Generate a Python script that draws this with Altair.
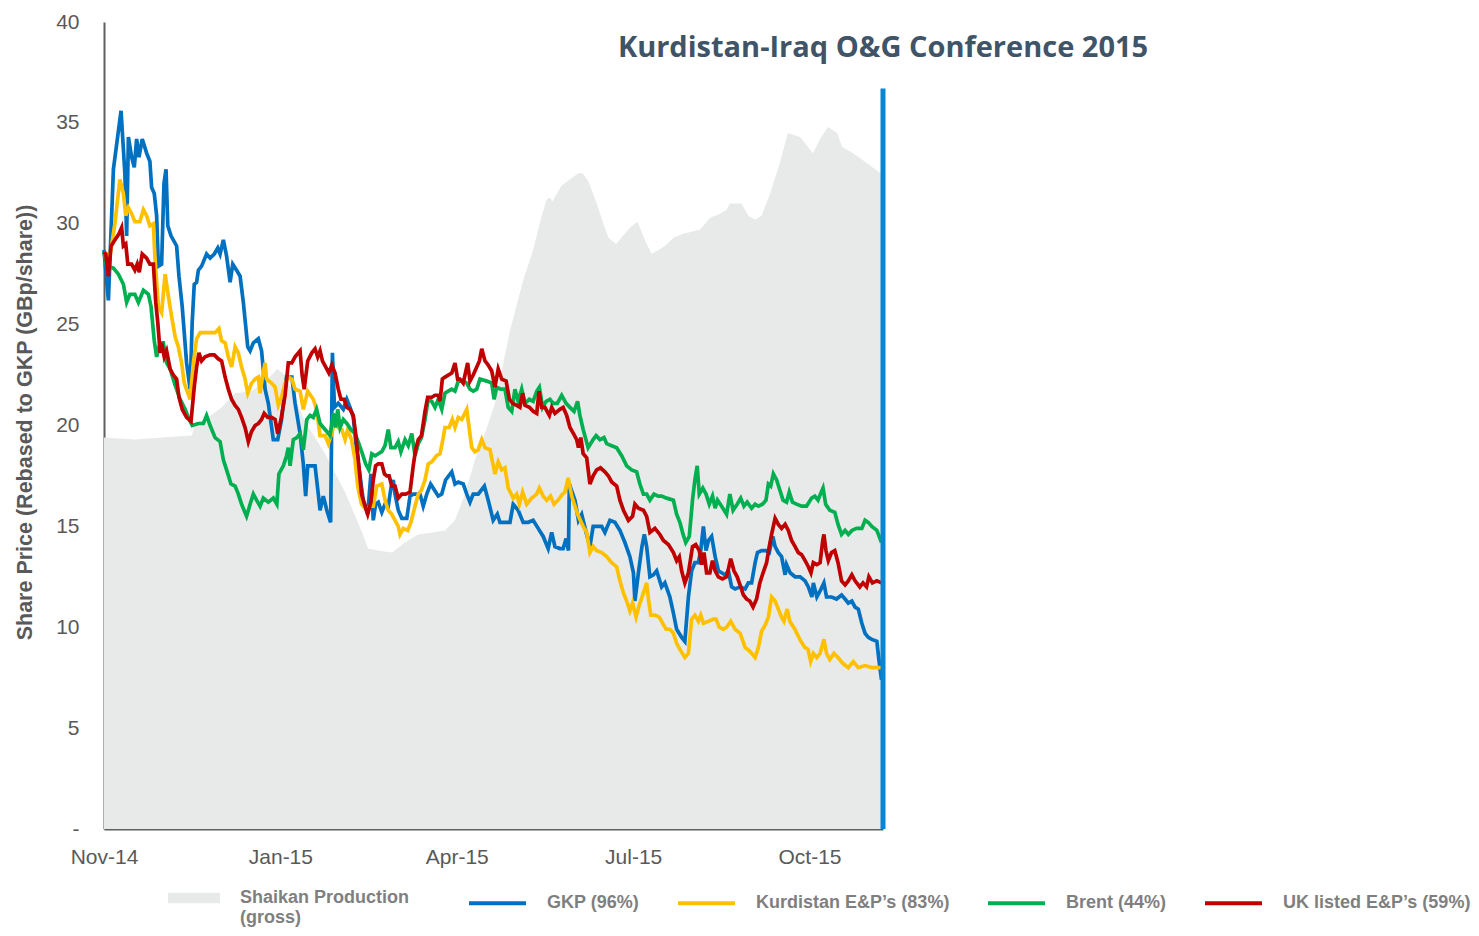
import altair as alt
import pandas as pd

# ---------------- axis / label data ----------------
X_TICK_POS = [0, 60, 120, 180, 240]
X_TICK_LABELS = ["Nov-14", "Jan-15", "Apr-15", "Jul-15", "Oct-15"]
Y_TICKS = [0, 5, 10, 15, 20, 25, 30, 35, 40]
X_END = 265

TITLE_TEXT = "Kurdistan-Iraq O&G Conference 2015"
Y_TITLE = "Share Price (Rebased to GKP (GBp/share))"

SERIES_NAMES = ["GKP (96%)", "Kurdistan E&P\u2019s (83%)", "Brent (44%)", "UK listed E&P\u2019s (59%)"]
SERIES_COLORS = ["#0070c0", "#ffc000", "#00b050", "#c00000"]
AREA_NAME = "Shaikan Production (gross)"
AREA_LINES = ["Shaikan Production", "(gross)"]
AREA_COLOR = "#e8e9e9"

EVENT_X = [265]
EVENT_TOP = [36.7]
EVENT_LABEL_Y = [38.7]

# ---------------- series data (trading-day index, value) ----------------
GKP_X = [0, 1.5, 3.2, 5.8, 7.1, 7.7, 8.3, 9.4, 10.3, 11.1,
         11.9, 13.0, 14.5, 15.6, 16.2, 17.1, 17.9, 18.5, 19.6, 20.4,
         21.1, 21.7, 22.8, 24.7, 25.5, 26.6, 28.1, 29.3, 30.0, 30.7,
         31.5, 32.1, 33.2, 34.9, 36.1, 37.5, 38.7, 39.5, 40.6, 41.7,
         42.9, 43.8, 45.1, 46.3, 47.4, 48.9, 49.7, 50.8, 52.5, 53.6,
         54.8, 55.9, 57.6, 59.1, 60.4, 62.1, 63.9, 65, 66.7, 67.8,
         68.6, 69.3, 71.8, 72.9, 73.5, 74.6, 75.8, 77.1, 77.7, 78.4,
         79.7, 81.4, 82.6, 83.7, 84.8, 85.9, 87.1, 88.2, 89.7, 90.8,
         91.6, 92.4, 93.3, 94.5, 95.6, 96.7, 97.6, 98.4, 99, 100.1,
         101.3, 103, 104.1, 105.2, 106.4, 107.5, 108.6, 109.8, 111.1, 112.4,
         113.7, 114.9, 116.2, 118.3, 119.4, 120.5, 122.2, 123.4, 124.5, 125.6,
         127.3, 129.4, 130.7, 132.4, 133.8, 134.7, 137, 138.1, 139.2, 140.9,
         142.6, 144.3, 146, 147.7, 149.4, 151.1, 152.3, 153.4, 155.1, 156.2,
         157.2, 158, 158.3, 160.2, 161.4, 162.5, 164.2, 165.3, 166.4, 168.2,
         169.3, 170.4, 172.1, 173.8, 175.5, 177.2, 178.9, 180.1, 180.6, 181.8,
         183, 183.8, 184.6, 185.7, 186.9, 188, 189.7, 190.8, 192.5, 193.7,
         194.8, 196.5, 197.6, 198.8, 199.9, 201, 202.2, 203, 203.9, 204.8,
         205.6, 206.7, 207.9, 209, 210.1, 211.3, 212.4, 213.5, 214.7, 216.4,
         218.1, 219.2, 220.3, 221.5, 222.3, 223.7, 225.2, 226.3, 227.5, 228.3,
         229.4, 230.5, 231.7, 232.2, 233.4, 235.1, 236.8, 238.5, 239.6, 240.8,
         241.3, 242.5, 243.6, 244.9, 245.8, 247.5, 249.2, 250.9, 252.1, 253.2,
         254.4, 255.5, 256.6, 257.8, 258.9, 260, 261.2, 262.9, 263.6, 264.5]
GKP_Y = [28.7, 26.2, 32.7, 35.6, 32.5, 29.4, 34.3, 33.3, 32.8, 34.2,
         33.3, 34.2, 33.5, 33.1, 31.8, 31.5, 30.4, 27.9, 28.0, 32.0,
         32.7, 29.9, 29.4, 28.9, 27.4, 25.9, 23.1, 21.8, 25.1, 27.0,
         27.1, 27.7, 27.9, 28.5, 28.3, 28.5, 28.8, 28.5, 29.2, 28.4,
         27.1, 28.0, 27.7, 27.4, 26.1, 23.9, 23.7, 24.1, 24.3, 23.7,
         21.8, 21.1, 19.3, 19.3, 20.3, 22.4, 22.4, 21.1, 19.6, 18.1,
         16.5, 18.0, 18.0, 16.6, 15.8, 16.5, 15.8, 15.2, 23.6, 20.9,
         21.1, 20.8, 21.3, 20.9, 20.4, 18.8, 17.5, 16.3, 15.6, 17.6,
         15.3, 16.1, 16.2, 15.7, 16.1, 16.0, 16.9, 17.3, 16.6, 15.8,
         15.4, 15.4, 16.5, 16.6, 16.6, 16.6, 16.0, 16.6, 17.1, 16.8,
         16.5, 16.6, 17.3, 17.7, 17.1, 17.2, 17.1, 16.6, 16.2, 16.6,
         16.6, 17.0, 16.3, 15.3, 15.6, 15.2, 15.2, 15.2, 16.1, 15.8,
         15.2, 15.2, 15.3, 14.9, 14.5, 13.9, 14.7, 14.0, 13.9, 13.9,
         14.4, 13.8, 17.1, 16.3, 15.3, 15.6, 14.6, 14.0, 15.0, 15.0,
         15.0, 14.7, 15.3, 15.2, 14.8, 14.2, 13.5, 12.7, 11.3, 12.7,
         14.0, 14.6, 14.0, 12.5, 12.6, 12.8, 12.0, 12.2, 11.5, 10.7,
         9.9, 9.5, 9.3, 11.5, 12.8, 13.2, 13.2, 13.8, 15.0, 13.8,
         14.3, 14.5, 13.5, 12.8, 12.7, 12.6, 12.8, 12.0, 11.9, 12.0,
         11.9, 12.2, 12.2, 13.2, 13.7, 13.8, 13.8, 13.7, 14.5, 14.0,
         13.7, 13.5, 12.6, 13.1, 12.7, 12.5, 12.5, 12.3, 12.0, 11.5,
         12.2, 11.5, 11.8, 12.2, 11.5, 11.5, 11.4, 11.6, 11.4, 11.2,
         11.3, 11.0, 10.9, 10.2, 9.7, 9.5, 9.4, 9.3, 8.4, 7.4]

KEP_X = [0, 2, 3.7, 5.4, 6.6, 7.4, 8.3, 9.4, 10.5, 12.2,
         13.4, 14.5, 15.6, 16.8, 17.3, 18.5, 19.6, 20.8, 21.9, 23,
         24.2, 25.3, 26.4, 27.3, 29.3, 30.4, 31.5, 32.7, 34.4, 36.1,
         37.8, 39.1, 40, 41.2, 42.3, 43.4, 44.6, 45.7, 46.8, 48,
         48.9, 50.2, 51.4, 52.5, 53.1, 54, 54.8, 55.3, 57, 58.2,
         59.3, 60.4, 61.6, 62.7, 63.9, 65, 66.7, 67.8, 69.3, 71.2,
         72.3, 73.5, 75.2, 76.3, 77.5, 78.6, 79.7, 80.9, 82, 82.9,
         84.2, 85.4, 86.3, 87.6, 89.4, 90.5, 91.6, 92.8, 94.5, 95.6,
         96.7, 97.9, 99, 100.1, 100.7, 101.8, 103.3, 104.4, 105.8, 106.9,
         108, 109.2, 110.3, 111.5, 113.1, 114.3, 115.4, 116, 117.4, 118.5,
         119.4, 120.5, 121.7, 123.4, 124.2, 125.1, 126.2, 127.3, 128.5, 129.6,
         131.3, 133, 134.1, 135.3, 136.4, 137.5, 139.2, 140.4, 141.3, 142.4,
         143.8, 145.5, 147.2, 148.1, 149.4, 150.6, 151.9, 153.1, 154.5, 156,
         156.8, 157.9, 159.1, 160.2, 161.4, 163, 164.2, 165.3, 166.4, 167.6,
         169.3, 171, 172.7, 174.4, 175.5, 176.7, 177.8, 178.9, 179.8, 181,
         182.1, 183.5, 184.6, 185.2, 186, 187.4, 188.9, 190, 191.2, 192.5,
         193.7, 194.8, 195.9, 197.6, 198.8, 199.9, 201, 202.2, 203, 203.9,
         205.6, 207.3, 208.2, 209.3, 210.7, 211.8, 213.2, 214.7, 216.4, 218.1,
         219.8, 221.5, 222.6, 223.7, 224.9, 226, 227.1, 228.3, 229.4, 230.5,
         231.3, 232.4, 233.3, 235, 236.7, 238.4, 239.5, 240.4, 241.3, 242.5,
         243.6, 244.9, 245.8, 246.9, 248.3, 249.7, 251.4, 253.2, 254.9, 256.6,
         258.9, 261.2, 264.5]
KEP_Y = [28.6, 28.4, 30.0, 32.2, 31.5, 30.4, 30.8, 30.5, 30.1, 30.1,
         30.7, 30.4, 29.9, 30.0, 28.4, 25.9, 25.6, 27.5, 26.4, 25.4,
         24.4, 23.9, 23.1, 22.1, 21.3, 23.1, 24.3, 24.6, 24.6, 24.6,
         24.6, 24.8, 24.2, 24.1, 23.4, 22.9, 23.9, 23.6, 22.9, 22.3,
         21.6, 22.1, 22.3, 22.4, 21.6, 22.5, 23.1, 22.3, 22.1, 21.9,
         21.0, 21.4, 22.1, 22.4, 22.3, 21.8, 21.7, 20.8, 21.7, 21.3,
         20.8, 19.5, 19.5, 19.1, 19.6, 20.3, 19.9, 19.8, 19.3, 19.8,
         19.3, 18.3, 17.0, 16.1, 15.8, 16.0, 16.0, 17.0, 17.1, 16.3,
         15.8, 15.6, 15.3, 15.0, 14.6, 14.9, 14.8, 15.2, 16.0, 16.6,
         16.8, 17.3, 18.1, 18.2, 18.5, 18.6, 19.4, 19.9, 19.9, 20.3,
         19.9, 20.4, 20.3, 20.8, 19.9, 18.9, 18.7, 18.8, 19.3, 18.9,
         18.8, 17.6, 18.2, 17.8, 17.9, 16.9, 16.4, 16.6, 16.1, 16.7,
         16.1, 16.4, 16.6, 16.9, 16.5, 16.3, 16.5, 16.1, 16.3, 16.6,
         16.7, 17.4, 16.5, 16.0, 15.5, 15.0, 14.7, 13.7, 14.0, 13.8,
         13.7, 13.5, 13.2, 13.0, 12.3, 11.7, 11.3, 10.8, 11.2, 10.5,
         11.1, 11.7, 12.2, 11.4, 10.6, 10.6, 10.5, 10.2, 9.9, 9.9,
         9.7, 9.2, 8.9, 8.5, 8.7, 10.4, 10.6, 10.3, 10.6, 10.2,
         10.3, 10.4, 10.4, 10.0, 9.9, 10.0, 10.3, 9.9, 9.7, 9.0,
         8.8, 8.5, 9.0, 9.8, 10.1, 10.5, 11.5, 11.3, 10.9, 10.5,
         10.3, 10.9, 10.3, 9.9, 9.4, 9.0, 8.9, 8.3, 8.7, 8.5,
         8.7, 9.4, 8.7, 8.4, 8.7, 8.5, 8.2, 8.0, 8.3, 8.0,
         8.1, 8.0, 8.0]

BRENT_X = [0, 0.9, 3.2, 4.9, 6.6, 7.7, 8.8, 10.5, 11.7, 13.4,
           15.1, 16, 17.1, 17.9, 19.1, 20.2, 21.3, 22.5, 24.2, 25.9,
           27.6, 28.7, 30, 32.1, 33.8, 34.9, 36.1, 37.8, 39.5, 40.6,
           41.7, 43.2, 44.6, 45.7, 46.8, 48.5, 49.7, 50.8, 51.9, 53.1,
           54.2, 55.9, 57.6, 58.8, 59.5, 61, 62.1, 62.7, 63.3, 64.4,
           65.6, 66.7, 67.8, 69, 70.1, 71.2, 72.3, 73.5, 74.6, 75.8,
           76.9, 78, 78.8, 79.5, 80.3, 81.4, 82.6, 84, 85.4, 86.7,
           87.9, 89, 90.1, 91.1, 92.2, 93.3, 94.5, 95.6, 96.7, 97.6,
           99, 100.1, 101, 102.4, 103.5, 104.7, 105.8, 106.9, 108, 109.2,
           110.3, 111.5, 112.6, 113.7, 114.9, 116, 117.1, 118.3, 119.4, 120.5,
           122.2, 123.4, 124.5, 125.6, 126.8, 127.9, 130.2, 131.9, 132.7, 133.6,
           134.9, 136.4, 137.5, 138.7, 139.8, 140.9, 142.1, 143.2, 144.7, 146,
           147.2, 148.1, 149.2, 150.4, 151.7, 152.8, 154.2, 155.7, 157.2, 158.5,
           159.9, 161.1, 161.9, 163, 164.7, 166.4, 167.4, 168.7, 170.1, 171,
           172.7, 174.4, 176.1, 177.8, 179.5, 181.2, 182.3, 183.5, 184.6, 185.7,
           187.1, 188.5, 189.7, 191.4, 193.7, 194.8, 195.9, 197, 197.9, 199.1,
           200.2, 201, 201.8, 202.5, 203.7, 204.8, 205.9, 207, 207.9, 208.7,
           210.1, 211.8, 212.9, 214, 215.4, 216.6, 217.7, 218.8, 220.3, 221.5,
           222.6, 224, 225.2, 226, 226.8, 227.7, 228.8, 229.9, 231, 232.2,
           233.1, 234.2, 235.6, 237.3, 239, 240.7, 241.8, 242.9, 243.7, 244.6,
           245.5, 246.9, 248.6, 249.7, 250.9, 252.1, 253.2, 254.4, 256, 257.8,
           258.9, 260, 261.2, 262.9, 264.5]
BRENT_Y = [28.6, 27.9, 27.8, 27.5, 27.0, 26.1, 26.5, 26.5, 26.1, 26.7,
           26.5, 25.9, 24.2, 23.4, 24.1, 24.1, 23.1, 22.8, 22.0, 21.3,
           20.8, 20.4, 20.0, 20.1, 20.1, 20.5, 20.0, 19.4, 19.2, 18.3,
           17.8, 17.1, 17.0, 16.6, 16.1, 15.5, 16.1, 16.6, 16.3, 16.0,
           16.4, 16.2, 16.4, 16.1, 17.6, 18.0, 18.5, 18.9, 18.0, 19.3,
           19.4, 19.6, 18.8, 20.3, 20.5, 20.4, 20.8, 20.1, 19.9, 19.7,
           19.5, 20.6, 19.9, 20.8, 19.9, 20.3, 20.1, 19.8, 19.6, 19.1,
           18.6, 18.1, 17.8, 18.6, 18.5, 18.6, 18.7, 19.0, 19.8, 18.9,
           18.9, 19.2, 18.7, 19.3, 19.0, 19.6, 18.5, 19.1, 19.4, 20.3,
           21.3, 21.2, 20.9, 21.3, 20.8, 21.6, 21.7, 21.8, 21.7, 22.2,
           22.2, 22.1, 21.8, 21.7, 21.8, 22.3, 22.2, 22.1, 21.3, 21.9,
           21.8, 21.8, 20.9, 20.7, 21.8, 21.2, 21.8, 21.1, 21.3, 21.2,
           21.7, 21.9, 20.9, 21.2, 21.3, 21.1, 21.1, 21.5, 21.1, 20.9,
           20.7, 21.2, 20.5, 19.8, 18.9, 19.3, 19.5, 19.3, 19.4, 19.1,
           19.0, 18.9, 18.5, 18.0, 17.8, 17.7, 17.1, 16.6, 16.6, 16.3,
           16.6, 16.5, 16.5, 16.4, 16.3, 15.6, 15.2, 14.6, 14.2, 14.5,
           16.3, 17.3, 18.0, 16.6, 16.9, 16.6, 16.1, 16.5, 15.9, 16.3,
           16.0, 15.6, 16.6, 15.8, 16.1, 16.4, 16.0, 16.2, 15.9, 16.1,
           16.0, 16.1, 16.3, 17.1, 17.0, 17.6, 17.3, 16.8, 16.3, 16.2,
           16.7, 16.2, 16.1, 16.0, 16.0, 16.4, 16.5, 16.3, 16.6, 16.9,
           16.1, 15.8, 15.7, 15.1, 14.6, 14.8, 14.6, 14.8, 14.9, 14.9,
           15.3, 15.2, 15.0, 14.8, 14.2]

UK_X = [0, 0.6, 1.5, 2.4, 3.7, 5.1, 6, 6.6, 7.4, 8.1,
        9.4, 10.5, 11.3, 12, 13, 14.5, 15.6, 16.8, 17.6, 18.3,
        19.1, 19.6, 20.5, 21.3, 22.5, 23.6, 24.7, 25.5, 26.6, 28.1,
        29.6, 30.7, 31.5, 32.3, 33.2, 34.4, 36.1, 37.5, 38.9, 40,
        41.2, 42.3, 43.4, 44.6, 45.7, 46.8, 48, 49.1, 50.2, 51.4,
        52.5, 53.6, 54.5, 55.7, 57, 58.2, 59.1, 60.2, 61.6, 62.7,
        63.9, 65, 66.7, 67.4, 68.1, 69.3, 70.7, 71.8, 72.7, 73.5,
        74.3, 75.4, 76.5, 77.5, 78.6, 79.7, 80.6, 81.7, 82.6, 83.7,
        84.8, 85.6, 86.5, 87.6, 88.8, 89.7, 90.8, 91.6, 92.4, 93.3,
        94.5, 95.4, 96.2, 97, 97.9, 99, 100.1, 101.3, 102.6, 104.1,
        105.2, 106, 106.9, 108, 109.2, 110.1, 111.5, 112.6, 113.7, 114.3,
        115.1, 116, 117.1, 118.3, 119.4, 120.3, 121.1, 122.2, 123.7, 124.5,
        125.6, 126.8, 127.7, 128.5, 129.6, 130.7, 131.9, 133, 134.1, 135.3,
        136.8, 137.9, 139, 140.4, 141.5, 142.4, 143.2, 144.7, 146, 147.2,
        148, 148.9, 150, 151.5, 152.3, 153.4, 155.1, 156.2, 157.4, 158.5,
        159.7, 160.8, 161.4, 162.2, 163, 164.2, 165.3, 166.4, 167.6, 168.9,
        170.4, 171.6, 172.7, 174.4, 175.5, 176.7, 178.4, 179.8, 180.6, 181.8,
        183.5, 184.6, 185.7, 187.4, 189.1, 190.3, 192, 193.7, 194.8, 195.7,
        196.5, 197.6, 198.8, 200.2, 201.3, 202.5, 203.3, 204.1, 205, 206.1,
        207, 207.9, 209, 210.4, 211.8, 213.2, 214.3, 215.4, 216.6, 217.5,
        218.6, 219.7, 220.8, 222, 223.1, 224.2, 225.4, 226.3, 227.1, 228.3,
        229.4, 230.5, 231.7, 232.8, 233.9, 235.1, 236.2, 237.3, 238.5, 239.6,
        240.5, 241.3, 242.5, 243.6, 244.5, 244.9, 245.6, 246.4, 247.5, 248.6,
        249.7, 250.9, 252.1, 253.2, 254.4, 255.5, 257.1, 258.2, 259.4, 260.2,
        261.4, 262.9, 264.5]
UK_Y = [28.6, 28.5, 27.4, 28.9, 29.2, 29.5, 29.8, 28.9, 29.0, 28.0,
        28.0, 27.7, 28.0, 27.6, 28.5, 28.3, 28.0, 28.0, 26.1, 25.1,
        23.6, 24.1, 23.4, 23.7, 22.8, 22.5, 22.3, 21.4, 20.8, 20.4,
        20.2, 21.9, 22.9, 23.6, 23.2, 23.4, 23.5, 23.5, 23.3, 23.2,
        22.4, 21.8, 21.3, 21.0, 20.8, 20.4, 19.9, 19.2, 19.7, 20.0,
        20.1, 20.3, 20.6, 20.4, 20.4, 20.3, 19.6, 20.3, 21.5, 23.1,
        23.1, 23.4, 23.7, 22.5, 21.8, 23.2, 23.6, 23.8, 23.4, 23.7,
        23.2, 22.9, 22.6, 23.0, 22.6, 21.8, 21.3, 21.3, 20.9, 20.8,
        20.5, 19.6, 18.3, 16.6, 16.0, 15.6, 16.2, 17.3, 18.0, 18.1,
        18.1, 17.6, 17.5, 17.5, 17.0, 17.0, 16.4, 16.6, 16.6, 16.7,
        18.0, 18.8, 19.3, 19.5, 20.7, 21.4, 21.4, 21.5, 21.5, 21.2,
        22.3, 22.4, 22.5, 22.6, 23.1, 22.3, 22.3, 22.1, 23.1, 22.2,
        22.5, 22.9, 23.2, 23.8, 23.2, 23.0, 22.7, 21.9, 22.8, 22.3,
        22.2, 21.3, 21.1, 21.0, 20.9, 21.6, 21.0, 20.9, 20.7, 20.6,
        21.7, 20.9, 20.9, 20.5, 20.9, 20.6, 20.8, 20.9, 20.5, 19.9,
        19.6, 19.3, 18.9, 19.4, 18.6, 18.4, 17.1, 17.5, 17.8, 17.9,
        17.7, 17.5, 17.2, 17.0, 16.3, 15.8, 15.3, 15.5, 16.1, 15.9,
        15.8, 15.5, 14.7, 14.9, 14.6, 14.3, 14.1, 13.7, 13.3, 13.5,
        12.8, 12.2, 12.7, 14.0, 14.1, 13.8, 13.1, 13.7, 12.7, 12.7,
        13.3, 12.8, 12.5, 12.4, 12.5, 13.4, 12.8, 12.5, 12.0, 11.6,
        11.4, 11.3, 11.0, 11.4, 12.2, 12.7, 13.2, 14.0, 14.6, 15.4,
        15.1, 14.9, 15.1, 14.8, 14.3, 14.0, 13.7, 13.6, 13.3, 13.0,
        12.7, 13.2, 13.1, 13.2, 14.3, 14.6, 13.8, 13.3, 13.7, 13.8,
        13.2, 12.3, 12.1, 12.3, 12.6, 12.3, 12.0, 12.2, 12.0, 12.5,
        12.2, 12.3, 12.2]

SHAIKAN_X = [0, 10.5, 19.7, 29.9, 31, 35.4, 40.1, 44.6, 50.3, 55.8,
             58.9, 61.6, 68.4, 75.2, 82, 87.8, 89.8, 93.2, 98, 102.4,
             106.8, 111.6, 116, 119.4, 122.8, 126.2, 129.6, 133, 138.1, 142.6,
             146, 148.9, 150.6, 151.7, 152.5, 155.7, 158.5, 161.4, 162.8, 164.8,
             167.6, 169.9, 171.6, 174.2, 178.9, 181.5, 184, 186.3, 188.6, 190.8,
             193.7, 197.1, 202.7, 206.2, 209.6, 211.8, 212.9, 216.9, 219.2, 221.5,
             223.7, 226.6, 229.9, 232.6, 236.8, 241.2, 243.6, 246.3, 249.4, 251.1,
             254.8, 259.6, 265]
SHAIKAN_Y = [19.4, 19.3, 19.4, 19.5, 20.1, 20.4, 20.9, 21.6, 21.7, 22.3,
             22.8, 22.5, 20.2, 18.6, 16.7, 14.7, 13.9, 13.8, 13.7, 14.2,
             14.6, 14.7, 14.8, 15.3, 16.6, 18.3, 19.6, 21.1, 24.7, 27.2,
             28.7, 30.4, 31.2, 31.3, 31.1, 31.9, 32.2, 32.5, 32.5, 32.1,
             31.0, 30.0, 29.3, 29.0, 29.8, 30.1, 29.2, 28.5, 28.7, 28.9,
             29.3, 29.5, 29.7, 30.3, 30.5, 30.7, 31.0, 31.0, 30.4, 30.2,
             30.4, 31.5, 33.0, 34.5, 34.3, 33.5, 34.2, 34.8, 34.5, 33.8,
             33.5, 33.0, 32.4]

# ---------------- tables ----------------
rows = []
for name, xs, ys in zip(SERIES_NAMES, [GKP_X, KEP_X, BRENT_X, UK_X], [GKP_Y, KEP_Y, BRENT_Y, UK_Y]):
    for a, b in zip(xs, ys):
        rows.append({"series": name, "t": a, "v": b})
lines_df = pd.DataFrame(rows)
area_df = pd.DataFrame({"t": SHAIKAN_X, "v": SHAIKAN_Y, "name": AREA_NAME})
event_df = pd.DataFrame({"t": EVENT_X, "v0": [0] * len(EVENT_X), "v1": EVENT_TOP,
                         "ly": EVENT_LABEL_Y, "label": [TITLE_TEXT]})

label_expr = "[" + ",".join("'%s'" % l for l in X_TICK_LABELS) + "][indexof([" + \
    ",".join(str(p) for p in X_TICK_POS) + "], datum.value)]"

AX_FONT = "Liberation Sans"
AX_COLOR = "#595959"
DOMAIN_COLOR = "#5f5f5f"

x_axis = alt.Axis(values=X_TICK_POS, labelExpr=label_expr, title=None, grid=False, ticks=False,
                  domainColor=DOMAIN_COLOR, domainWidth=2, labelFont=AX_FONT, labelFontSize=21,
                  labelColor=AX_COLOR, labelPadding=17, labelFlush=False, labelOverlap=False)
y_axis = alt.Axis(values=Y_TICKS, labelExpr="datum.value == 0 ? '-' : datum.label", title=Y_TITLE,
                  grid=False, ticks=False, domainColor=DOMAIN_COLOR, domainWidth=2,
                  labelFont=AX_FONT, labelFontSize=21, labelColor=AX_COLOR, labelPadding=25,
                  titleFont=AX_FONT, titleFontSize=21.5, titleFontWeight="bold", titleColor=AX_COLOR,
                  titleX=-79, titleY=400, titleBaseline="middle", labelOverlap=False)

x_scale = alt.Scale(domain=[0, X_END], nice=False, zero=False)
y_scale = alt.Scale(domain=[0, 40], nice=False)

area_legend_expr = "[" + ",".join("'%s'" % l for l in AREA_LINES) + "]"

area = alt.Chart(area_df).mark_area(opacity=1, interpolate="linear").encode(
    x=alt.X("t:Q", scale=x_scale, axis=x_axis),
    y=alt.Y("v:Q", scale=y_scale, axis=y_axis),
    fill=alt.Fill("name:N", scale=alt.Scale(domain=[AREA_NAME], range=[AREA_COLOR]),
                  legend=alt.Legend(orient="none", legendX=64, legendY=850, direction="horizontal",
                                    title=None, padding=0,
                                    symbolType="M-1,-0.2L1,-0.2L1,0.2L-1,0.2Z", symbolSize=2704,
                                    symbolStrokeWidth=0, symbolOpacity=1,
                                    labelExpr=area_legend_expr, labelBaseline="middle",
                                    labelFont=AX_FONT, labelFontSize=18, labelFontWeight="bold",
                                    labelColor="#7f7f7f", labelOffset=20, labelLimit=400)),
)

lines = alt.Chart(lines_df).mark_line(strokeWidth=3.7, interpolate="linear").encode(
    x=alt.X("t:Q", scale=x_scale, axis=x_axis),
    y=alt.Y("v:Q", scale=y_scale, axis=y_axis),
    stroke=alt.Stroke("series:N", scale=alt.Scale(domain=SERIES_NAMES, range=SERIES_COLORS),
                      legend=alt.Legend(orient="none", legendX=363, legendY=850.5,
                                        direction="horizontal", title=None, padding=0,
                                        symbolType="stroke", symbolSize=3249, symbolStrokeWidth=4,
                                        labelFont=AX_FONT, labelFontSize=18, labelFontWeight="bold",
                                        labelColor="#7f7f7f", labelOffset=19, columnPadding=30,
                                        labelLimit=400)),
)

rule = alt.Chart(event_df).mark_rule(color="#0a85d2", strokeWidth=5).encode(
    x=alt.X("t:Q", scale=x_scale, axis=x_axis),
    y=alt.Y("v0:Q", scale=y_scale, axis=y_axis),
    y2="v1:Q",
)

title = alt.Chart(event_df).mark_text(font="Open Sans", fontSize=29, fontWeight="bold",
                                      color="#3f5567", align="center", baseline="middle").encode(
    x=alt.X("t:Q", scale=x_scale, axis=x_axis),
    y=alt.Y("ly:Q", scale=y_scale, axis=y_axis),
    text="label:N",
)

chart = alt.layer(area, lines, rule, title).properties(
    width=779, height=807,
    autosize=alt.AutoSizeParams(type="none"),
    padding={"left": 96, "top": 14, "right": 588, "bottom": 98},
).configure_view(stroke=None)

chart.save("out.html", embed_options={"renderer": "svg", "actions": False})
